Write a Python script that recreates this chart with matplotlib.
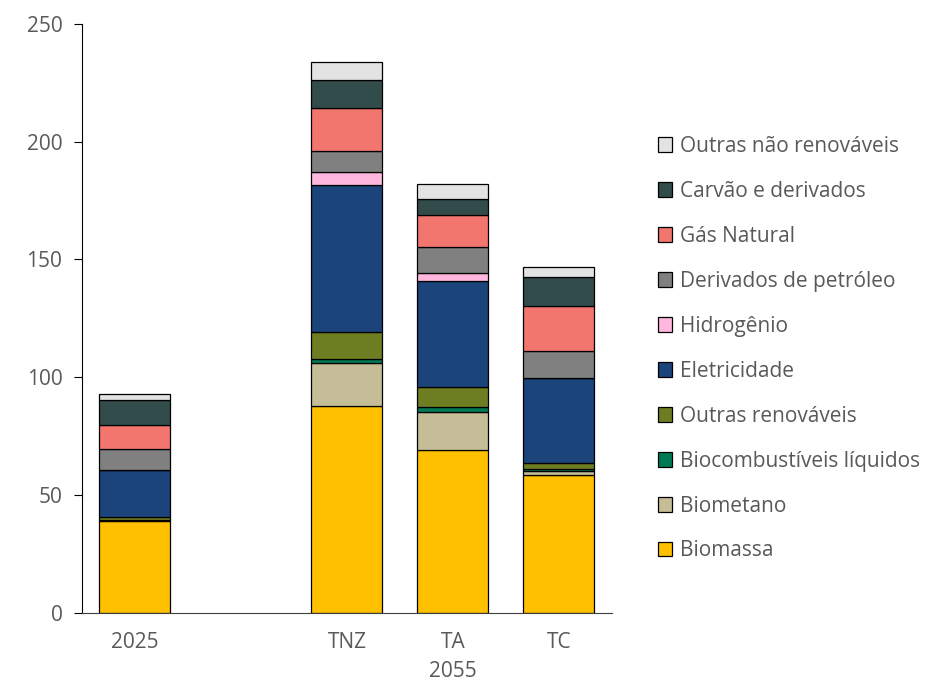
import matplotlib.pyplot as plt
import numpy as np

plt.rcParams['font.family'] = ['Open Sans', 'DejaVu Sans']

# categorias (2025 e os três cenários de 2055)
cenarios = ['2025', 'TNZ', 'TA', 'TC']
posicoes = [0, 2, 3, 4]

fontes = ['Biomassa', 'Biometano', 'Biocombustíveis líquidos', 'Outras renováveis',
          'Eletricidade', 'Hidrogênio', 'Derivados de petróleo', 'Gás Natural',
          'Carvão e derivados', 'Outras não renováveis']

biomassa = [39.0, 88.0, 69.3, 58.7]
biometano = [0.3, 18.2, 16.0, 1.4]
biocombustiveis = [0.2, 1.5, 2.1, 0.9]
outras_renov = [1.1, 11.4, 8.5, 2.8]
eletricidade = [20.0, 62.4, 45.0, 35.9]
hidrogenio = [0.0, 5.5, 3.4, 0.0]
derivados = [9.0, 9.1, 11.0, 11.5]
gas_natural = [10.2, 18.0, 13.5, 19.1]
carvao = [10.6, 12.0, 6.8, 12.4]
outras_nao_renov = [2.3, 7.9, 6.6, 4.1]

cores = ['#FFC000', '#C4BD97', '#007A55', '#6D7D21', '#1A447A',
         '#FFB7DD', '#808080', '#F2766E', '#324C4B', '#E3E3E3']

series = [biomassa, biometano, biocombustiveis, outras_renov, eletricidade,
          hidrogenio, derivados, gas_natural, carvao, outras_nao_renov]

fig = plt.figure(figsize=(9.3, 6.81), dpi=100)
ax = fig.add_axes([0.088, 0.1, 0.57, 0.865])

base = np.zeros(len(cenarios))
handles = []
for nome, valores, cor in zip(fontes, series, cores):
    b = ax.bar(posicoes, valores, width=0.67, bottom=base, color=cor,
               edgecolor='black', linewidth=0.9, label=nome)
    handles.append(b)
    base += np.array(valores)

ax.set_xlim(-0.5, 4.5)
ax.set_ylim(0, 250)
ax.set_yticks(range(0, 251, 50))
ax.set_xticks(posicoes)
ax.set_xticklabels(cenarios)
ax.tick_params(axis='x', length=0, pad=14, labelsize=15, colors='#595959')
ax.tick_params(axis='y', length=6, labelsize=15, colors='#595959', pad=8)
ax.tick_params(axis='y', color='black')
for s in ['top', 'right']:
    ax.spines[s].set_visible(False)
ax.spines['left'].set_color('black')
ax.spines['bottom'].set_color('#404040')

ax.text(3, -0.1, '2055', transform=ax.get_xaxis_transform(), ha='center',
        va='center', fontsize=15, color='#595959')

leg = fig.legend(handles[::-1], fontes[::-1], loc='center left',
                 bbox_to_anchor=(0.687, 0.488), frameon=False, fontsize=15,
                 handlelength=0.7, handleheight=0.7, handletextpad=0.35,
                 labelspacing=1.15)
for t in leg.get_texts():
    t.set_color('#595959')

fig.savefig('out.png', dpi=100)
